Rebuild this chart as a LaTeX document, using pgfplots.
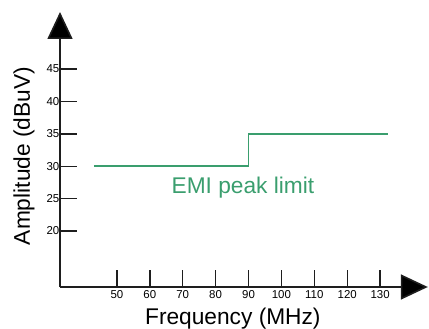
\documentclass[border=0pt]{standalone}
\usepackage{fontspec}
\setmainfont{Liberation Sans}
\usepackage{pgfplots}
\pgfplotsset{compat=1.18}
\usetikzlibrary{arrows.meta}
\definecolor{limgreen}{RGB}{58,158,110}
\definecolor{axgray}{RGB}{30,30,30}
\begin{document}
\begin{tikzpicture}[x=1bp,y=1bp]
\useasboundingbox (0,0) rectangle (429,329);
\begin{axis}[
  at={(60bp,42bp)}, anchor=south west,
  x=3.29bp, y=6.48bp,
  xmin=32.7, xmax=144.5, ymin=11.36, ymax=53.8,
  axis lines=left,
  axis line style={axgray, line width=1.6bp, -{Triangle[length=27bp,width=25bp,fill=black]}},
  tick align=inside,
  major tick length=17bp,
  tick style={axgray, line width=1.4bp},
  xtick={50,60,...,130},
  ytick={20,25,...,45},
  /pgf/number format/assume math mode=true,
  tick label style={font=\fontsize{11.5}{13}\selectfont, text=black},
  xticklabel style={inner sep=1bp, yshift=-2bp},
  yticklabel style={inner sep=0.5bp},
  xlabel={Frequency (MHz)},
  ylabel={Amplitude (dBuV)},
  label style={font=\fontsize{22.8}{27}\selectfont},
  xlabel style={at={(rel axis cs:0.470,-0.138)}, anchor=base},
  ylabel style={at={(rel axis cs:-0.098,0.476)}, anchor=center, rotate=0},
  clip=false,
]
\addplot[limgreen, line width=1.5bp] coordinates {(43,30) (90,30) (90,35) (132.4,35)};
\node[anchor=base, text=limgreen, font=\fontsize{22.8}{27}\selectfont, inner sep=0pt] at (axis cs:88.3,25.86) {EMI peak limit};
\end{axis}
\end{tikzpicture}
\end{document}
